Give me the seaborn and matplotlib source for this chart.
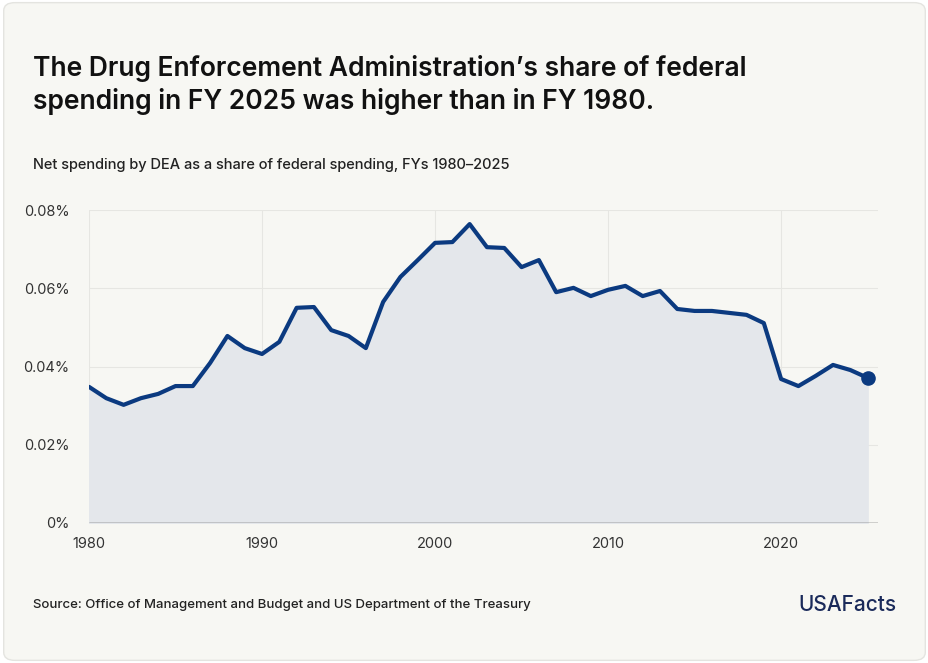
import matplotlib
matplotlib.use("Agg")
import matplotlib.pyplot as plt
import seaborn as sns
import pandas as pd
from matplotlib.patches import FancyBboxPatch

years = list(range(1980, 2026))
share = [0.0348,0.0319,0.0302,0.0319,0.0330,0.0350,0.0350,0.0409,0.0478,0.0447,
         0.0432,0.0463,0.0550,0.0552,0.0493,0.0478,0.0447,0.0565,0.0629,0.0672,
         0.0716,0.0718,0.0764,0.0705,0.0703,0.0654,0.0672,0.0590,0.0601,0.0580,
         0.0596,0.0606,0.0580,0.0593,0.0547,0.0542,0.0542,0.0537,0.0532,0.0511,
         0.0368,0.0350,0.0376,0.0404,0.0391,0.0371]
yticks = [0, 0.02, 0.04, 0.06, 0.08]
ytick_labels = ["0%", "0.02%", "0.04%", "0.06%", "0.08%"]
xticks = [1980, 1990, 2000, 2010, 2020]

df = pd.DataFrame({"year": years, "share": share})
sns.set_style("white")
plt.rcParams['font.family'] = ['Inter', 'DejaVu Sans']

fig = plt.figure(figsize=(9.29, 6.63), dpi=100)
fig.patch.set_facecolor("white")
card = FancyBboxPatch((0.004, 0.004), 0.992, 0.992, boxstyle="round,pad=0,rounding_size=0.012",
                      transform=fig.transFigure, facecolor="#f7f7f3", edgecolor="#e4e4e0", lw=1,
                      zorder=-10)
fig.patches.append(card)

ax = fig.add_axes([89/929, 1-523/663, (878-89)/929, 313/663])
ax.set_zorder(5)
ax.set_facecolor("none")
ax.fill_between(df["year"], df["share"], color="#e4e7eb", zorder=1)
sns.lineplot(data=df, x="year", y="share", ax=ax, color="#0b3a80", lw=3, zorder=3)
ax.scatter([years[-1]], [share[-1]], s=90, color="#0b3a80", zorder=4)
ax.set_xlim(1980, 2025.6)
ax.set_ylim(0, 0.08)
ax.set_yticks(yticks, ytick_labels)
ax.set_xticks(xticks)
ax.grid(True, color="#e6e6e2", lw=0.8)
ax.set_axisbelow(True)
for s in ax.spines.values():
    s.set_visible(False)
ax.axhline(0, color="#333333", lw=1, zorder=2)
ax.set_xlabel(""); ax.set_ylabel("")
ax.tick_params(axis="both", length=0, labelsize=10.5, colors="#333333")
ax.tick_params(axis="y", pad=14)
ax.tick_params(axis="x", pad=10)

fig.text(33/929, 1-85/663, "The Drug Enforcement Administration’s share of federal\nspending in FY 2025 was higher than in FY 1980.",
         fontsize=19, fontweight="semibold", color="#111111", va="center", linespacing=1.3)
fig.text(33/929, 1-165/663, "Net spending by DEA as a share of federal spending, FYs 1980–2025",
         fontsize=10.5, fontweight="medium", color="#222222", va="center")
fig.text(33/929, 1-605/663, "Source: Office of Management and Budget and US Department of the Treasury",
         fontsize=9.5, fontweight="medium", color="#222222", va="center")
fig.text(897/929, 1-605/663, "USAFacts", fontsize=15, fontweight="medium", color="#1a2a5a",
         va="center", ha="right")
fig.savefig("out.png", dpi=100, facecolor=fig.get_facecolor())
